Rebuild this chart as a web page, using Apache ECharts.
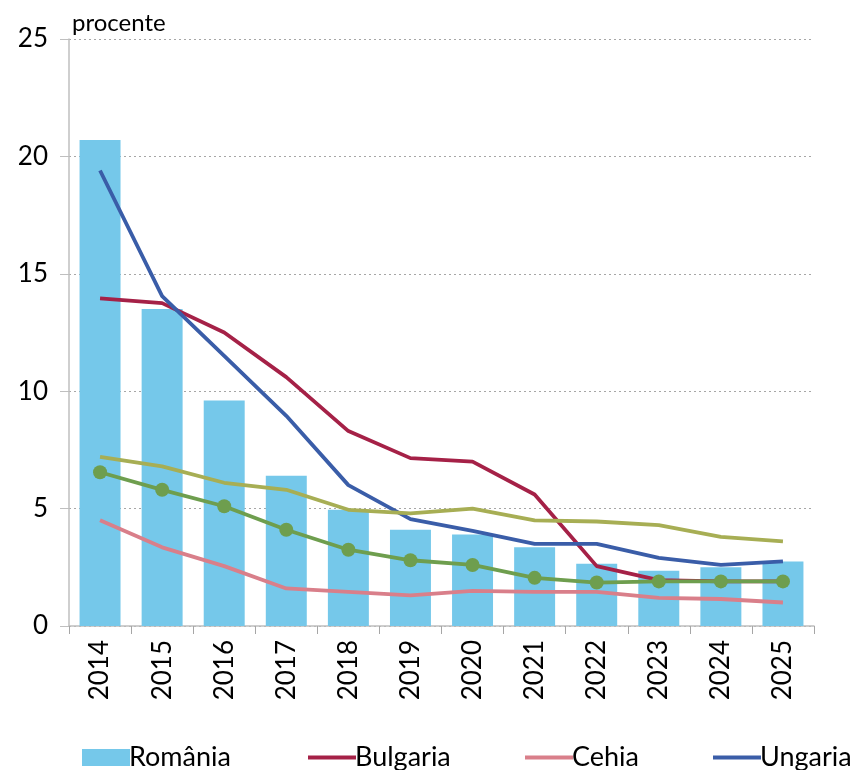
<!DOCTYPE html>
<html><head><meta charset="utf-8">
<script src="https://cdn.jsdelivr.net/npm/echarts@6/dist/echarts.min.js"></script>
<style>html,body{margin:0;padding:0;background:#fff}#c{width:854px;height:770px}</style>
</head><body><div id="c"></div>
<script>
const years = ['2014','2015','2016','2017','2018','2019','2020','2021','2022','2023','2024','2025'];
const romania = [20.7,13.5,9.6,6.4,4.95,4.1,3.9,3.35,2.65,2.35,2.5,2.75];
const bulgaria = [13.95,13.75,12.5,10.6,8.3,7.15,7.0,5.6,2.55,1.95,1.9,1.9];
const cehia = [4.5,3.35,2.55,1.6,1.45,1.3,1.5,1.45,1.45,1.2,1.15,1.0];
const ungaria = [19.4,14.05,11.5,8.95,6.0,4.55,4.05,3.5,3.5,2.9,2.6,2.75];
const polonia = [7.2,6.8,6.1,5.8,4.95,4.8,5.0,4.5,4.45,4.3,3.8,3.6];
const ue = [6.55,5.8,5.1,4.1,3.25,2.8,2.6,2.05,1.85,1.9,1.9,1.9];
const yTicks = [0,5,10,15,20,25];

const FONT = 'Lato';
const chart = echarts.init(document.getElementById('c'));
const line = (name, data, color, extra) => Object.assign({
  name, type:'line', data, symbol:'none', smooth:false,
  lineStyle:{color, width:3.8}, itemStyle:{color}, z:3
}, extra||{});
const LINE_ICON = 'path://M0,0 H48 V4 H0 Z';
const leg = (name, left, icon) => ({
  data:[{name, icon}], left, top:739, itemWidth:48, itemHeight:17,
  textStyle:{fontFamily:FONT, fontSize:27, color:'#000', padding:[0,0,0,-6]}
});
chart.setOption({
  animation:false,
  textStyle:{fontFamily:FONT},
  grid:{left:69, right:40, top:39, bottom:144},
  title:{text:'procente', left:67, top:6, textStyle:{fontFamily:FONT, fontWeight:'normal', fontSize:24, color:'#000'}},
  legend:[
    leg('România', 77, 'rect'),
    leg('Bulgaria', 303, LINE_ICON),
    leg('Cehia', 520, LINE_ICON),
    leg('Ungaria', 708, LINE_ICON)
  ],
  xAxis:{
    type:'category', data:years, boundaryGap:true,
    axisLine:{lineStyle:{color:'#bfbfbf', width:1.5}},
    axisTick:{show:true, length:8, lineStyle:{color:'#a6a6a6'}},
    axisLabel:{rotate:90, fontFamily:FONT, fontSize:26, color:'#000', margin:14}
  },
  yAxis:{
    type:'value', min:0, max:25, interval:5,
    axisLine:{show:true, lineStyle:{color:'#bfbfbf', width:1.5}},
    axisTick:{show:true, length:9, lineStyle:{color:'#bfbfbf'}},
    axisLabel:{fontFamily:FONT, fontSize:26, color:'#000', margin:21,
      formatter:v=>yTicks.includes(v)?String(v):''},
    splitLine:{show:true, lineStyle:{color:'#a6a6a6', type:[2,3], width:1}}
  },
  series:[
    {name:'România', type:'bar', data:romania, barWidth:'66%', itemStyle:{color:'#75C8EA'}, z:2},
    line('Bulgaria', bulgaria, '#A52147'),
    line('Cehia', cehia, '#D97F8A'),
    line('Ungaria', ungaria, '#3A5DA8'),
    line('Polonia', polonia, '#A7AE54'),
    line('UE', ue, '#6E9E4E', {symbol:'circle', symbolSize:14})
  ]
});
</script></body></html>
